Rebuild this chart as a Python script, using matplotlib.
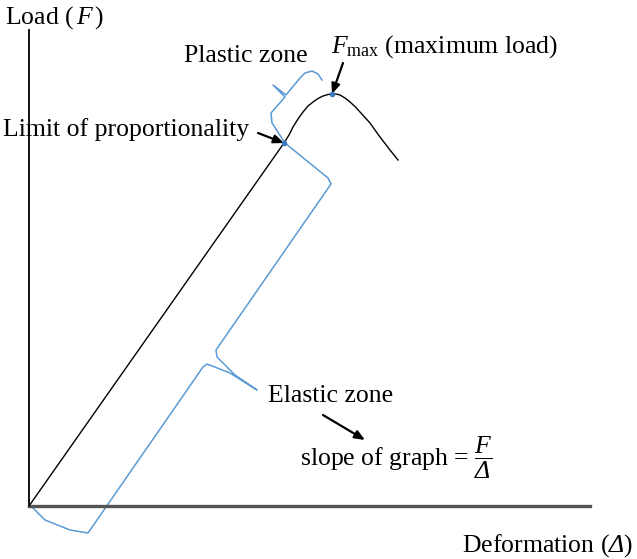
import matplotlib
matplotlib.use("Agg")
import matplotlib.pyplot as plt

plt.rcParams['font.family'] = ['Liberation Serif', 'DejaVu Serif']
plt.rcParams['mathtext.fontset'] = 'custom'
plt.rcParams['mathtext.rm'] = 'Liberation Serif'
plt.rcParams['mathtext.it'] = 'Liberation Serif:italic'
plt.rcParams['mathtext.sf'] = 'Liberation Serif:italic'  # used for the italic Delta

# load-deformation curve (arbitrary units, origin at axes corner)
deformation = [0, 255, 260, 264, 269, 274, 279, 284, 289, 294, 299, 303, 307, 311, 316, 321, 326, 331, 336, 341, 346, 351, 356, 361, 365, 369]
load = [0, 363, 371, 379, 387, 394, 400, 404, 407.5, 410, 411.5, 412, 412, 411, 408, 404, 399.5, 394, 388.5, 383, 376, 369, 362.5, 356, 351, 346]

# marked points
limit_pt = (255, 363)
fmax_pt = (303, 412)

# hand-drawn braces
elastic_x = [256, 299, 302, 187, 188, 206, 228, 201, 178, 174, 59, 41, 16, 4, 0]
elastic_y = [363, 328, 322, 156, 149, 131, 116, 133, 142, 139, -27, -24, -14, -2, 0]
plastic_x = [256, 243, 242, 256, 244, 257, 271, 276, 283, 289, 293]
plastic_y = [363, 383, 393, 409, 421, 411, 428, 433, 435, 432, 426]

x_end = 561
y_end = 476

blue = '#5b9bd5'
fs = 18.5

fig = plt.figure(figsize=(6.37, 5.59), dpi=100)
ax = fig.add_axes([0, 0, 1, 1])
ax.set_xlim(-29, 608)
ax.set_ylim(-53, 506)

for s in ['top', 'right']:
    ax.spines[s].set_visible(False)
ax.spines['left'].set_position(('data', 0))
ax.spines['bottom'].set_position(('data', 0))
ax.spines['left'].set_bounds(0, y_end)
ax.spines['bottom'].set_bounds(0, x_end)
ax.spines['left'].set_linewidth(1.3)
ax.spines['left'].set_color('black')
ax.spines['bottom'].set_linewidth(2.4)
ax.spines['bottom'].set_color('#555555')
ax.set_xticks([])
ax.set_yticks([])

ax.plot(deformation, load, color='black', lw=1.0, zorder=3)
ax.plot(elastic_x, elastic_y, color=blue, lw=1.1, solid_joinstyle='round', zorder=2)
ax.plot(plastic_x, plastic_y, color=blue, lw=1.1, solid_joinstyle='round', zorder=2)
ax.plot(*zip(limit_pt, fmax_pt), ls='none', marker='o', ms=3, color='#3a78c0', zorder=4)

# labels
ax.text(-24, 482, 'Load ($\\,F\\,$)', fontsize=fs, va='baseline')
ax.text(433, -46, 'Deformation ($\\mathsf{\\Delta}$)', fontsize=fs, va='baseline')
ax.text(155, 444, 'Plastic zone', fontsize=fs, va='baseline')
ax.text(302, 453, '$F_{\\mathrm{max}}$ (maximum load)', fontsize=fs, va='baseline')
ax.text(-26, 370, 'Limit of proportionality', fontsize=fs, va='baseline')
ax.text(239, 104, 'Elastic zone', fontsize=fs, va='baseline')
ax.text(271, 40, 'slope of graph = $\\dfrac{F}{\\mathsf{\\Delta}}$', fontsize=fs, va='baseline')

arrow = dict(arrowstyle='-|>,head_length=0.6,head_width=0.25', color='black', lw=1.6, shrinkA=0, shrinkB=0)
ax.annotate('', xy=limit_pt, xytext=(229, 373), arrowprops=arrow)
ax.annotate('', xy=fmax_pt, xytext=(314, 443), arrowprops=arrow)
ax.annotate('', xy=(336, 66), xytext=(294, 91), arrowprops=arrow)

fig.savefig('out.png', dpi=100)
